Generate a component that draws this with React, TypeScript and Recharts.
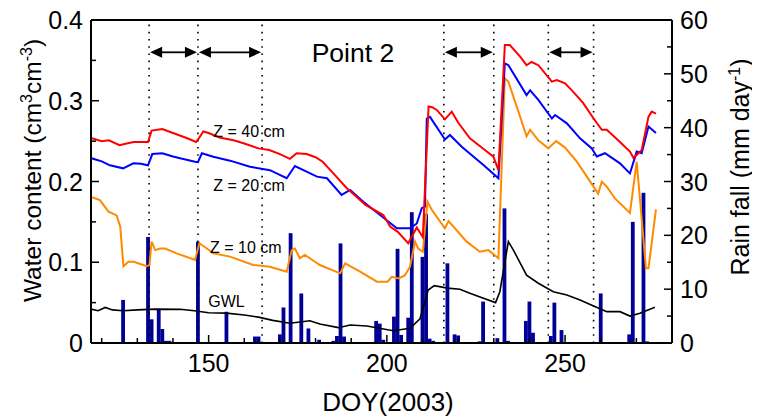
import React from 'react';
import { ComposedChart, Line, Bar, XAxis, YAxis, ReferenceLine } from 'recharts';

// Soil water content (cm3 cm-3) by DOY
const z40: [number, number][] = [
  [117, 0.254], [120, 0.25], [122, 0.251], [125, 0.245], [127, 0.247], [129, 0.249], [133, 0.249],
  [134, 0.263], [137, 0.265], [140, 0.26], [144, 0.2535], [146.5, 0.249], [147.2, 0.253], [148.5, 0.262],
  [150, 0.26], [153, 0.2545], [157, 0.251], [160, 0.247], [164, 0.241], [167, 0.239], [170, 0.234],
  [172.8, 0.228], [174.7, 0.235], [177.5, 0.234], [180, 0.23], [182, 0.2245], [185, 0.21], [188.7, 0.192],
  [191, 0.183], [194, 0.171], [199, 0.1585], [201, 0.144], [203, 0.138], [206, 0.1235], [208.4, 0.143],
  [210.1, 0.131], [211.7, 0.293], [212.7, 0.292], [214, 0.2886], [216.3, 0.277], [218.2, 0.2865],
  [220, 0.273], [223.3, 0.2535], [227.5, 0.239], [229.9, 0.2307], [231.3, 0.214], [233.1, 0.369],
  [234.5, 0.369], [237.4, 0.3546], [239.2, 0.344], [240.6, 0.348], [242.5, 0.344], [246.3, 0.3236],
  [247.7, 0.3257], [250, 0.3216], [252.3, 0.311], [255.1, 0.297], [258, 0.278], [260.3, 0.264],
  [261.7, 0.264], [265.4, 0.249], [268.2, 0.237], [269.2, 0.229], [271.5, 0.239], [273.4, 0.28],
  [274.3, 0.2865], [275.5, 0.284],
];

const z20: [number, number][] = [
  [117, 0.229], [120, 0.225], [122.3, 0.22], [126, 0.2163], [128.9, 0.2225], [131, 0.222], [133, 0.22],
  [134.2, 0.234], [137, 0.235], [140, 0.231], [142, 0.2287], [146.2, 0.2245], [147, 0.224], [148.1, 0.235],
  [151.3, 0.2307], [156, 0.2258], [161.6, 0.2183], [167.2, 0.214], [171.9, 0.204], [174.2, 0.2192],
  [176.6, 0.214], [180.4, 0.206], [183.2, 0.204], [187.3, 0.1833], [189.7, 0.1895], [193.4, 0.175],
  [198.1, 0.1585], [202.8, 0.142], [206.5, 0.142], [208.4, 0.148], [209.8, 0.167], [210.7, 0.169],
  [211.2, 0.278], [212.1, 0.28], [216.3, 0.252], [217.7, 0.2576], [221, 0.243], [227.1, 0.2204],
  [231.3, 0.204], [233.1, 0.3464], [234.1, 0.344], [239.2, 0.307], [240.2, 0.313], [242.5, 0.301],
  [246.3, 0.278], [247.2, 0.2824], [250.5, 0.272], [254.2, 0.2535], [257.5, 0.241], [258.9, 0.231],
  [261.2, 0.235], [265.4, 0.2225], [268.2, 0.21], [270.1, 0.237], [271.5, 0.235], [273.4, 0.268],
  [275.5, 0.26],
];

const z10: [number, number][] = [
  [117, 0.181], [119.5, 0.177], [121.9, 0.1626], [124.2, 0.158], [125.2, 0.144], [126.1, 0.095],
  [127.5, 0.1007], [129, 0.1007], [132.6, 0.095], [133.4, 0.0966], [134, 0.1255], [135, 0.115],
  [136.4, 0.117], [137.8, 0.117], [141, 0.111], [146.2, 0.103], [147.4, 0.1235], [149.5, 0.117],
  [151.3, 0.111], [156, 0.107], [162.5, 0.0966], [167.2, 0.0945], [171.9, 0.0883], [173.3, 0.115],
  [174.2, 0.117], [175.6, 0.105], [177, 0.109], [178.4, 0.105], [181.2, 0.0966], [186.9, 0.0863],
  [188.3, 0.0987], [192.5, 0.0883], [197.2, 0.076], [200.2, 0.076], [201.4, 0.082], [203.4, 0.08],
  [205.1, 0.084], [206.5, 0.0945], [207.9, 0.1255], [208.8, 0.117], [210.1, 0.113], [211.4, 0.175],
  [212.6, 0.165], [216.3, 0.142], [217.3, 0.151], [222.4, 0.1255], [226.1, 0.113], [228.5, 0.115],
  [231.3, 0.105], [233.1, 0.328], [234.1, 0.3236], [237.4, 0.28], [239.2, 0.256], [240.2, 0.264],
  [242.5, 0.251], [245.3, 0.241], [247.5, 0.25], [250, 0.242], [253.3, 0.2245], [259.3, 0.185],
  [260.3, 0.1998], [261.7, 0.1936], [264, 0.179], [268.2, 0.161], [270.1, 0.2245], [272.7, 0.0925],
  [273.4, 0.0925], [275.5, 0.1656],
];

const gwl: [number, number][] = [
  [117, 0.042], [119, 0.04], [121, 0.044], [123, 0.041], [126, 0.04], [130, 0.041], [135, 0.042],
  [142, 0.0417], [146, 0.04], [150, 0.0375], [155, 0.037], [160, 0.0347], [164, 0.032], [168, 0.028],
  [172.8, 0.0244], [178.4, 0.0276], [181.2, 0.0235], [186.4, 0.019], [189.7, 0.0223], [194.4, 0.021],
  [201.8, 0.0152], [206.5, 0.0182], [209.3, 0.03], [211.6, 0.0656], [213.3, 0.071], [217, 0.068],
  [220.5, 0.0665], [223.3, 0.0615], [227.1, 0.0553], [230.5, 0.05], [231.7, 0.0635], [233.1, 0.1],
  [234.1, 0.1255], [235.5, 0.115], [239.2, 0.084], [242.5, 0.074], [246.7, 0.0635], [250.5, 0.0594],
  [254.2, 0.0533], [258, 0.0458], [261.7, 0.0388], [265.4, 0.0388], [268.2, 0.0334], [271, 0.0368],
  [275.2, 0.0442],
];

// Daily rain fall (mm/day)
const rainDays = [
  126, 133, 134, 136, 137, 138, 139, 147, 155, 163, 164, 170, 171, 173, 176, 178, 181, 185, 186, 187,
  188, 197, 198, 199, 202, 203, 204, 206, 207, 210, 211, 212, 213, 217, 219, 220, 226, 227, 231, 233,
  234, 239, 240, 241, 246, 247, 249, 260, 268, 269, 272, 273,
];
const rainMm = [
  8.0, 19.7, 4.4, 6.3, 2.6, 0.4, 0.4, 18.8, 5.8, 1.2, 1.2, 1.6, 6.6, 20.4, 9.2, 2.7, 0.6, 0.4, 1.3, 18.5,
  1.2, 4.1, 3.6, 0.6, 4.9, 17.5, 1.5, 4.7, 24.3, 16.0, 24.0, 0.8, 0.4, 14.8, 1.6, 1.4, 0.3, 7.7, 0.9, 25.0,
  0.4, 4.1, 7.7, 1.9, 1.3, 7.5, 2.4, 9.2, 1.6, 22.5, 27.9, 0.3,
];

const xTicks = [120, 130, 140, 150, 160, 170, 180, 190, 200, 210, 220, 230, 240, 250, 260, 270, 280];
const xLabelTicks = [150, 200, 250];
const leftTicks = [0, 0.05, 0.1, 0.15, 0.2, 0.25, 0.3, 0.35, 0.4];
const leftLabelTicks = ['0', '0.1', '0.2', '0.3', '0.4'];
const rightTicks = [0, 5, 10, 15, 20, 25, 30, 35, 40, 45, 50, 55, 60];
const boundaryDays = [133.3, 147, 165, 216, 230, 245.3, 258];
const arrowSpans: [number, number][] = [[133.3, 147], [147, 165], [216, 230], [245.3, 258]];
const arrowLevel = 0.36;

const FONT = "'Liberation Sans', Arial, Helvetica, sans-serif";

function buildData() {
  const map = new Map<number, any>();
  const get = (d: number) => {
    if (!map.has(d)) map.set(d, { day: d });
    return map.get(d);
  };
  z40.forEach(([d, v]) => (get(d).z40 = v));
  z20.forEach(([d, v]) => (get(d).z20 = v));
  z10.forEach(([d, v]) => (get(d).z10 = v));
  gwl.forEach(([d, v]) => (get(d).gwl = v));
  rainDays.forEach((d, i) => (get(d).rain = rainMm[i]));
  return Array.from(map.values()).sort((a, b) => a.day - b.day);
}
const data = buildData();

const LeftTick = (p: any) => {
  const { x, y, payload } = p;
  const label = leftLabelTicks.find((s) => Math.abs(parseFloat(s) - payload.value) < 1e-6);
  return (
    <g>
      <line x1={x} x2={x + (label ? 8 : 5)} y1={y} y2={y} stroke="#000" strokeWidth={1.5} />
      {label && (
        <text x={x - 8} y={y} dy="0.36em" textAnchor="end" fontSize={25} fontFamily={FONT} fill="#000">
          {label}
        </text>
      )}
    </g>
  );
};

const RightTick = (p: any) => {
  const { x, y, payload } = p;
  const major = payload.value % 10 === 0;
  return (
    <g>
      <line x1={x} x2={x - (major ? 8 : 5)} y1={y} y2={y} stroke="#000" strokeWidth={1.5} />
      {major && (
        <text x={x + 8} y={y} dy="0.36em" textAnchor="start" fontSize={25} fontFamily={FONT} fill="#000">
          {payload.value}
        </text>
      )}
    </g>
  );
};

const BottomTick = (p: any) => {
  const { x, y, payload } = p;
  const major = xLabelTicks.includes(payload.value);
  return (
    <g>
      <line x1={x} x2={x} y1={y} y2={y - (major ? 8 : 5)} stroke="#000" strokeWidth={1.5} />
      {major && (
        <text x={x} y={y + 29} textAnchor="middle" fontSize={25} fontFamily={FONT} fill="#000">
          {payload.value}
        </text>
      )}
    </g>
  );
};

const RainBar = (p: any) => {
  const { x, y, width, height, fill } = p;
  if (!height || height <= 0) return null;
  const cx = x + width / 2;
  return <rect x={cx - 1.9} y={y} width={3.8} height={height} fill={fill} />;
};

const ArrowShape = (p: any) => {
  const { x1, y1, x2, y2 } = p;
  const h = 12;
  const w = 5.5;
  const l = Math.min(x1, x2);
  const r = Math.max(x1, x2);
  const y = (y1 + y2) / 2;
  return (
    <g>
      <line x1={l + h} y1={y} x2={r - h} y2={y} stroke="#000" strokeWidth={1.8} />
      <polygon points={`${l + 1},${y} ${l + h + 1},${y - w} ${l + h + 1},${y + w}`} fill="#000" />
      <polygon points={`${r - 1},${y} ${r - h - 1},${y - w} ${r - h - 1},${y + w}`} fill="#000" />
    </g>
  );
};

export default function App() {
  const W = 760;
  const H = 419;
  return (
    <div style={{ position: 'relative', width: W, height: H, margin: '-8px 0 0 -8px', fontFamily: FONT }}>
      <ComposedChart width={W} height={H} data={data} margin={{ top: 20, right: 0, bottom: 0, left: 0 }}>
        <XAxis
          dataKey="day"
          type="number"
          domain={[117, 280]}
          ticks={xTicks}
          interval={0}
          tick={<BottomTick />}
          tickLine={false}
          tickSize={0}
          tickMargin={0}
          height={76}
          axisLine={{ stroke: '#000', strokeWidth: 2 }}
          allowDataOverflow
        />
        <YAxis
          yAxisId="left"
          orientation="left"
          domain={[0, 0.4]}
          ticks={leftTicks}
          interval={0}
          tick={<LeftTick />}
          tickLine={false}
          tickSize={0}
          tickMargin={0}
          width={91}
          axisLine={{ stroke: '#000', strokeWidth: 2 }}
          allowDataOverflow
        />
        <YAxis
          yAxisId="right"
          orientation="right"
          domain={[0, 60]}
          ticks={rightTicks}
          interval={0}
          tick={<RightTick />}
          tickLine={false}
          tickSize={0}
          tickMargin={0}
          width={88}
          axisLine={{ stroke: '#000', strokeWidth: 2 }}
          allowDataOverflow
        />
        <Bar yAxisId="right" dataKey="rain" fill="#000096" shape={RainBar} isAnimationActive={false} />
        {boundaryDays.map((d) => (
          <ReferenceLine
            key={'b' + d}
            yAxisId="left"
            x={d}
            stroke="#000"
            strokeWidth={1.6}
            strokeDasharray="1.6 5.6"
          />
        ))}
        {arrowSpans.map(([a, b]) => (
          <ReferenceLine
            key={'a' + a}
            yAxisId="left"
            segment={[{ x: a, y: arrowLevel }, { x: b, y: arrowLevel }]}
            shape={ArrowShape}
            stroke="#000"
          />
        ))}
        <Line yAxisId="left" dataKey="gwl" stroke="#000" strokeWidth={1.6} dot={false} connectNulls isAnimationActive={false} />
        <Line yAxisId="left" dataKey="z10" stroke="#ff8a00" strokeWidth={2} dot={false} connectNulls isAnimationActive={false} />
        <Line yAxisId="left" dataKey="z20" stroke="#0000ff" strokeWidth={2} dot={false} connectNulls isAnimationActive={false} />
        <Line yAxisId="left" dataKey="z40" stroke="#ff0000" strokeWidth={2} dot={false} connectNulls isAnimationActive={false} />
        <ReferenceLine yAxisId="left" y={0.4} stroke="#000" strokeWidth={2} />
      </ComposedChart>
      <svg
        width={W}
        height={H}
        style={{ position: 'absolute', left: 0, top: 0, pointerEvents: 'none' }}
        fontFamily={FONT}
      >
        <text x={41} y={170.5} transform="rotate(-90 41 170.5)" textAnchor="middle" fontSize={24.5} fill="#000">
          Water content (cm<tspan dy={-9} fontSize={16}>3</tspan>
          <tspan dy={9}>cm</tspan>
          <tspan dy={-9} fontSize={16}>-3</tspan>
          <tspan dy={9}>)</tspan>
        </text>
        <text x={749} y={167} transform="rotate(-90 749 167)" textAnchor="middle" fontSize={25} fill="#000">
          Rain fall (mm day<tspan dy={-9} fontSize={16}>-1</tspan>
          <tspan dy={9}>)</tspan>
        </text>
        <text x={388} y={410.7} textAnchor="middle" fontSize={26} fill="#000">
          DOY(2003)
        </text>
        <text x={311.7} y={62.3} fontSize={26.5} fill="#000">
          Point 2
        </text>
        <text x={213.3} y={136.7} fontSize={16} fill="#000">Z = 40 cm</text>
        <text x={213.3} y={190.7} fontSize={16} fill="#000">Z = 20 cm</text>
        <text x={210} y={253.3} fontSize={16} fill="#000">Z = 10 cm</text>
        <text x={208.3} y={307.3} fontSize={16} fill="#000">GWL</text>
      </svg>
    </div>
  );
}
